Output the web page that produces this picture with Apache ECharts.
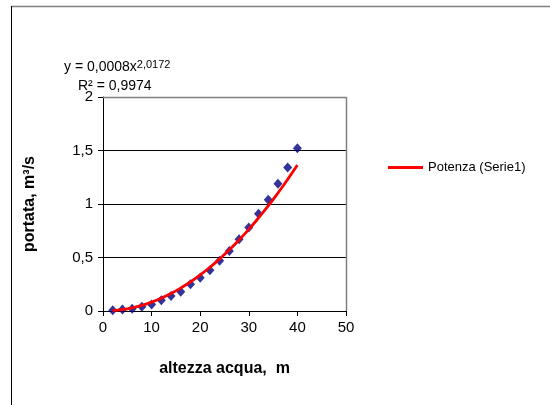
<!DOCTYPE html>
<html>
<head>
<meta charset="utf-8">
<script src="https://cdn.jsdelivr.net/npm/echarts@6/dist/echarts.min.js"></script>
<style>
  html, body { margin: 0; padding: 0; background: #fff; }
  #chart { width: 550px; height: 405px; }
</style>
</head>
<body>
<div id="chart"></div>
<script>
// Measured water height (m) and discharge (m³/s)
const altezza = [2, 4, 6, 8, 10, 12, 14, 16, 18, 20, 22, 24, 26, 28, 30, 32, 34, 36, 38, 40];
const portata = [0.006, 0.013, 0.02, 0.04, 0.06, 0.10, 0.14, 0.18, 0.25, 0.31, 0.38, 0.47, 0.56, 0.67, 0.78, 0.91, 1.04, 1.19, 1.34, 1.52];

// Power trend line coefficients: y = a · x^b
const trendA = 0.0008;
const trendB = 2.0172;
const trendR2 = '0,9974';

const xTicks = [0, 10, 20, 30, 40, 50];
const yTicks = [0, 0.5, 1, 1.5, 2];

const fmt = v => String(v).replace('.', ',');

const points = altezza.map((x, i) => [x, portata[i]]);
const trend = altezza.map(x => [x, trendA * Math.pow(x, trendB)]);

const FONT = 'Liberation Sans, Arial, sans-serif';

const chart = echarts.init(document.getElementById('chart'), null, { renderer: 'canvas' });
chart.setOption({
  animation: false,
  backgroundColor: '#fff',
  grid: { left: 103, top: 97, right: 204, bottom: 94, show: false },
  xAxis: {
    type: 'value',
    min: xTicks[0], max: xTicks[xTicks.length - 1], interval: 10,
    name: 'altezza acqua,  m',
    nameLocation: 'middle', nameGap: 50,
    nameTextStyle: { fontFamily: FONT, fontSize: 16, fontWeight: 'bold', color: '#000' },
    axisLine: { lineStyle: { color: '#000', width: 1 } },
    axisTick: { show: true, length: 5, inside: false, lineStyle: { color: '#000' } },
    axisLabel: { fontFamily: FONT, fontSize: 15, color: '#000', margin: 9, formatter: fmt },
    splitLine: { show: false }
  },
  yAxis: {
    type: 'value',
    min: yTicks[0], max: yTicks[yTicks.length - 1], interval: 0.5,
    name: 'portata, m³/s',
    nameLocation: 'middle', nameGap: 65, nameRotate: 90,
    nameTextStyle: { fontFamily: FONT, fontSize: 16, fontWeight: 'bold', color: '#000' },
    axisLine: { show: true, lineStyle: { color: '#000', width: 1 } },
    axisTick: { show: true, length: 5, inside: false, lineStyle: { color: '#000' } },
    axisLabel: { fontFamily: FONT, fontSize: 15, color: '#000', margin: 10, formatter: fmt },
    splitLine: { show: true, lineStyle: { color: '#000', width: 1 } }
  },
  legend: {
    show: true,
    left: 383, top: 156,
    itemWidth: 35, itemHeight: 3, itemGap: 5,
    icon: 'rect',
    textStyle: { fontFamily: FONT, fontSize: 13, color: '#000' },
    data: ['Potenza (Serie1)']
  },
  series: [
    {
      name: 'Serie1',
      type: 'scatter',
      data: points,
      symbol: 'diamond',
      symbolSize: [9, 10],
      itemStyle: { color: '#000080' },
      z: 3
    },
    {
      name: 'Potenza (Serie1)',
      type: 'line',
      data: trend,
      smooth: true,
      showSymbol: false,
      lineStyle: { color: '#ff0000', width: 2.8 },
      itemStyle: { color: '#ff0000' },
      z: 4
    }
  ],
  graphic: [
    // outer frame: grey top edge, black left edge
    { type: 'line', shape: { x1: 11, y1: 6.5, x2: 550, y2: 6.5 }, style: { stroke: '#808080', lineWidth: 1.5 }, silent: true },
    { type: 'line', shape: { x1: 11.5, y1: 6, x2: 11.5, y2: 405 }, style: { stroke: '#000', lineWidth: 1 }, silent: true },
    // plot area top and right border
    { type: 'line', shape: { x1: 103, y1: 97.5, x2: 346.5, y2: 97.5 }, style: { stroke: '#808080', lineWidth: 1.5 }, silent: true, z: 1 },
    { type: 'line', shape: { x1: 346.5, y1: 97, x2: 346.5, y2: 311 }, style: { stroke: '#808080', lineWidth: 1.5 }, silent: true, z: 1 },
    // trend line equation
    {
      type: 'text', left: 64, top: 59, z: 10,
      style: {
        rich: {
          n: { fontFamily: FONT, fontSize: 14, fill: '#000' },
          s: { fontFamily: FONT, fontSize: 11, fill: '#000', verticalAlign: 'top', padding: [0, 0, 6, 0] }
        },
        text: '{n|y = ' + fmt(trendA) + 'x}{s|' + fmt(trendB) + '}'
      }
    },
    {
      type: 'text', left: 78, top: 79, z: 10,
      style: { text: 'R² = ' + trendR2, fontFamily: FONT, fontSize: 14, fill: '#000' }
    }
  ]
});
</script>
</body>
</html>
